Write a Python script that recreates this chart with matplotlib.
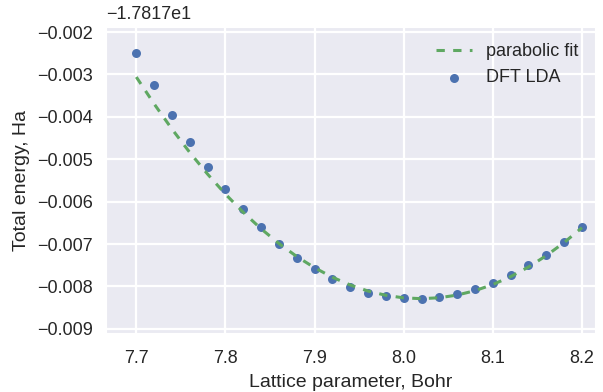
import matplotlib
matplotlib.use('Agg')
import matplotlib.pyplot as plt
import seaborn as sns

# Gitterparameter (Bohr) og total energi relativt til offset -17.817 Ha
lattice = [7.70, 7.72, 7.74, 7.76, 7.78, 7.80, 7.82, 7.84, 7.86, 7.88,
           7.90, 7.92, 7.94, 7.96, 7.98, 8.00, 8.02, 8.04, 8.06, 8.08,
           8.10, 8.12, 8.14, 8.16, 8.18, 8.20]
energy_dft = [-0.00250, -0.00326, -0.00396, -0.00460, -0.00518, -0.00570,
              -0.00618, -0.00661, -0.00699, -0.00732, -0.00758, -0.00783,
              -0.00801, -0.00815, -0.00823, -0.00828, -0.00829, -0.00825,
              -0.00819, -0.00807, -0.00792, -0.00774, -0.00750, -0.00725,
              -0.00695, -0.00661]
energy_fit = [-0.003060, -0.003694, -0.004288, -0.004841, -0.005352, -0.005823,
              -0.006252, -0.006641, -0.006988, -0.007295, -0.007560, -0.007784,
              -0.007967, -0.008110, -0.008211, -0.008271, -0.008290, -0.008268,
              -0.008205, -0.008101, -0.007956, -0.007770, -0.007543, -0.007274,
              -0.006965, -0.006615]
offset_label = '\u22121.7817e1'

sns.set_style('darkgrid')
plt.rcParams['font.family'] = ['Liberation Sans', 'DejaVu Sans']
plt.rcParams['lines.scale_dashes'] = False

fig = plt.figure(figsize=(6.03, 3.92), dpi=100)
ax = fig.add_subplot(111)
fig.subplots_adjust(left=0.1758, right=0.9867, top=0.9311, bottom=0.1505)

dots = ax.scatter(lattice, energy_dft, s=42, color='#4C72B0', linewidths=0,
                  label='DFT LDA', zorder=2)
fit_line, = ax.plot(lattice, energy_fit, color='#5FA862', linewidth=2.2,
                    linestyle=(0, (6, 6)), label='parabolic fit', zorder=3)

ax.set_xlim(7.666, 8.2146)
ax.set_ylim(-0.00910, -0.00188)
ax.set_xticks([7.7, 7.8, 7.9, 8.0, 8.1, 8.2])
ax.set_yticks([-0.009, -0.008, -0.007, -0.006, -0.005, -0.004, -0.003, -0.002])
ax.ticklabel_format(axis='y', useOffset=False, style='plain')
ax.tick_params(labelsize=13, colors='#262626')
ax.tick_params(axis='y', pad=6)
ax.tick_params(axis='x', pad=9)
ax.grid(color='white', linewidth=1.6)

ax.text(0.0, 1.012, offset_label, transform=ax.transAxes, ha='left',
        va='bottom', fontsize=13, color='#262626')

ax.set_xlabel('Lattice parameter, Bohr', fontsize=14, color='#262626', labelpad=5)
ax.set_ylabel('Total energy, Ha', fontsize=14, color='#262626', labelpad=5)

ax.legend([fit_line, dots], ['parabolic fit', 'DFT LDA'], loc='upper right',
          frameon=False, fontsize=13, scatterpoints=1, handlelength=2.0)

fig.savefig('out.png', dpi=100)
